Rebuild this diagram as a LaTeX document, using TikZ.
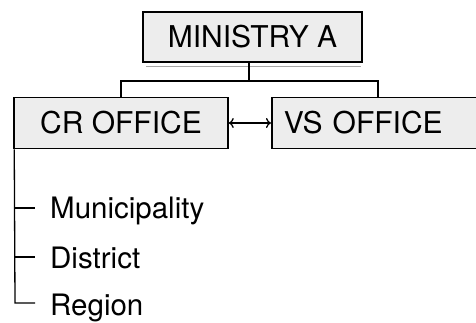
\documentclass[tikz,border=0pt]{standalone}
\usepackage{fontspec}
\setmainfont{TeX Gyre Heros}
\usetikzlibrary{arrows.meta}
\begin{document}
\begin{tikzpicture}[x=1pt,y=-1pt,
  office/.style={draw=black, line width=1.5pt, fill=gray!14, inner sep=0pt,
    font=\fontsize{30}{34}\selectfont, text height=21pt, text depth=0pt},
  link/.style={draw=black, line width=1.3pt},
  item/.style={anchor=base west, inner sep=0pt, font=\fontsize{29.5}{34}\selectfont}]
  \useasboundingbox (0,0) rectangle (476,322);
  \clip (0,0) rectangle (476,322);

  % boxes
  \node[office, minimum width=219pt, minimum height=50pt] (min) at (252.5,37) {MINISTRY A};
  \node[office, minimum width=214pt, minimum height=51pt] (cr) at (121,123) {CR OFFICE};
  \node[office, anchor=west, minimum height=51pt, text width=190pt, inner xsep=12pt, align=left] (vs) at (271,123) {VS OFFICE};

  % faint shadow line under the ministry box
  \draw[gray!70, line width=0.8pt] ([xshift=4pt,yshift=-3.5pt]min.south west) -- ([xshift=-2pt,yshift=-3.5pt]min.south east);

  % hierarchy connectors
  \coordinate (fork) at (249,81);
  \draw[link] (min.south -| fork) -- (fork);
  \draw[link] (cr.north -| 121,0) |- (fork) -| (vs.north -| 378,0);

  % mutual link between offices
  \draw[link, {To[length=5pt,width=10pt]}-{To[length=5pt,width=10pt]}] (cr.east) -- (vs.west);

  % subordinate levels
  \node[item] (mun) at (50,218) {Municipality};
  \node[item] (dis) at (50,268) {District};
  \node[item] (reg) at (50,315) {Region};
  \coordinate (t1) at (15,208);
  \coordinate (t2) at (15,257);
  \coordinate (t3) at (15,303);
  \draw[link] ([xshift=1pt]cr.south west) -- (t3) -- (35,303);
  \draw[link] (t1) -- (35,208);
  \draw[link] (t2) -- (35,257);
\end{tikzpicture}
\end{document}
